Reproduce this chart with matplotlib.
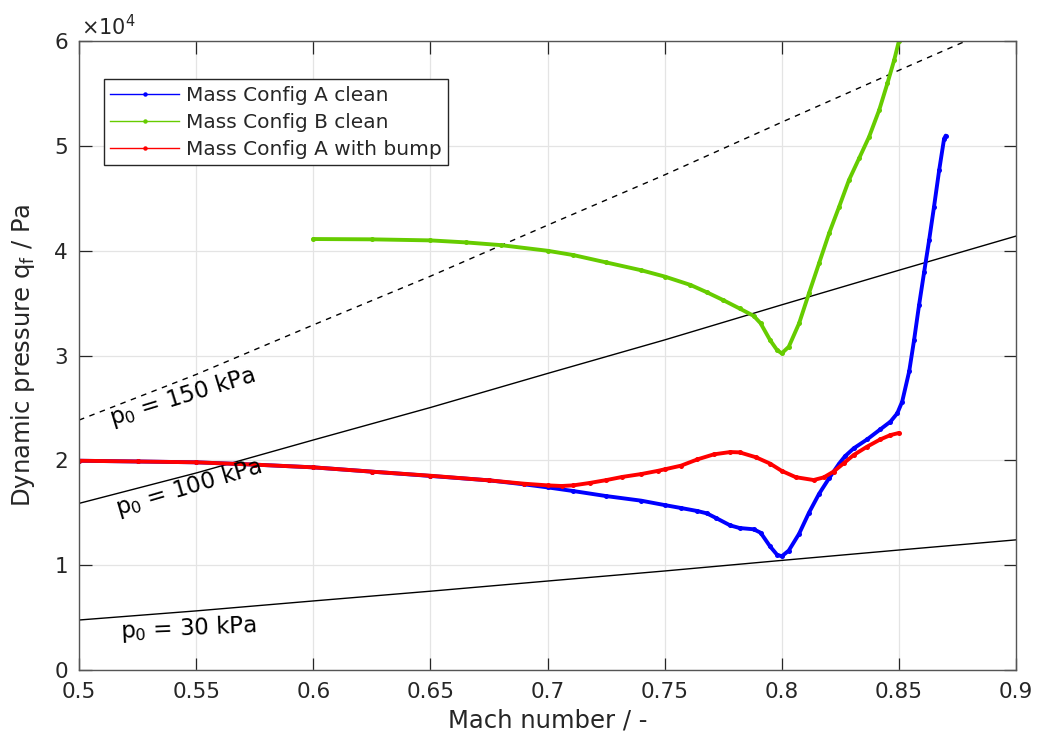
import matplotlib
matplotlib.use("Agg")
import matplotlib.pyplot as plt
from matplotlib.lines import Line2D
import numpy as np

plt.rcParams['font.family'] = ['DejaVu Sans']
plt.rcParams['mathtext.default'] = 'regular'

# ---------------- data ----------------
mach_ref = [0.50, 0.55, 0.60, 0.65, 0.70, 0.75, 0.80, 0.85, 0.90]
q_p0_30 = [4770, 5640, 6590, 7520, 8490, 9450, 10460, 11450, 12420]
q_p0_100 = [15900, 18800, 21950, 25050, 28300, 31500, 34850, 38150, 41410]
q_p0_150 = [23850, 28200, 32930, 37580, 42450, 47250, 52280, 57230, 62120]

mach_A = [0.500, 0.525, 0.550, 0.575, 0.600, 0.625, 0.650, 0.675, 0.690, 0.700,
          0.711, 0.725, 0.740, 0.750, 0.757, 0.764, 0.768, 0.772, 0.778, 0.782,
          0.788, 0.791, 0.795, 0.798, 0.800, 0.803, 0.8074, 0.8116, 0.8159,
          0.8202, 0.8245, 0.827, 0.8307, 0.8364, 0.8421, 0.8464, 0.8493, 0.8514,
          0.8544, 0.8565, 0.8586, 0.8608, 0.8629, 0.865, 0.8672, 0.8693, 0.870]
q_A = [19970, 19900, 19820, 19600, 19340, 18930, 18520, 18100, 17720, 17430,
       17080, 16600, 16160, 15740, 15460, 15170, 14950, 14500, 13800, 13550,
       13430, 13100, 11800, 11000, 10850, 11400, 13000, 15000, 16800,
       18300, 19700, 20400, 21150, 22000, 22970, 23700, 24490, 25600,
       28500, 31500, 34800, 38000, 41000, 44200, 47700, 50700, 51000]

mach_B = [0.600, 0.625, 0.650, 0.665, 0.680, 0.700, 0.711, 0.725, 0.740, 0.750,
          0.761, 0.768, 0.775, 0.782, 0.788, 0.791, 0.795, 0.798, 0.800, 0.803,
          0.8074, 0.8116, 0.8159, 0.8202, 0.8245, 0.8287, 0.833, 0.8373, 0.8416,
          0.8451, 0.848, 0.850]
q_B = [41130, 41100, 41000, 40810, 40550, 40010, 39600, 38900, 38150, 37550,
       36750, 36050, 35300, 34500, 33800, 33080, 31490, 30530, 30220, 30850,
       33080, 35940, 38800, 41670, 44210, 46760, 48820, 50890, 53440,
       55980, 58210, 60000]

mach_Ab = [0.500, 0.525, 0.550, 0.575, 0.600, 0.625, 0.650, 0.675, 0.690, 0.700,
           0.706, 0.711, 0.718, 0.725, 0.732, 0.740, 0.747, 0.750, 0.757, 0.764,
           0.771, 0.778, 0.782, 0.789, 0.795, 0.800, 0.806, 0.8136, 0.8179,
           0.8221, 0.8264, 0.8307, 0.8364, 0.8421, 0.8464, 0.850]
q_Ab = [19970, 19900, 19820, 19600, 19340, 18930, 18540, 18100, 17780, 17620,
        17560, 17620, 17850, 18120, 18430, 18700, 19000, 19150, 19500, 20100,
        20580, 20800, 20770, 20300, 19700, 19000, 18400, 18130, 18380,
        18930, 19720, 20520, 21310, 22010, 22420, 22620]

xticks = [0.5, 0.55, 0.6, 0.65, 0.7, 0.75, 0.8, 0.85, 0.9]
yticks = [0, 10000, 20000, 30000, 40000, 50000, 60000]

labels = ['Mass Config A clean', 'Mass Config B clean', 'Mass Config A with bump']
colors = ['#0000ff', '#66cc00', '#ff0000']

# ---------------- figure ----------------
fig = plt.figure(figsize=(10.38, 7.38), dpi=100)
ax = fig.add_axes([79/1038, 1-670/738, (1016-79)/1038, (670-41.3)/738])

dark = '#262626'
ax.grid(True, color='#e4e4e4', lw=0.9)
ax.set_axisbelow(True)

ax.plot(mach_ref, q_p0_30, color='k', lw=1.0)
ax.plot(mach_ref, q_p0_100, color='k', lw=1.0)
ax.plot(mach_ref, q_p0_150, color='k', lw=1.0, ls=(0, (4, 4)))

for m, q, c in [(mach_A, q_A, colors[0]), (mach_B, q_B, colors[1]), (mach_Ab, q_Ab, colors[2])]:
    ax.plot(m, q, color=c, lw=2.8, marker='o', ms=3.6, mew=0,
            solid_capstyle='round', solid_joinstyle='round')

ax.set_xlim(0.5, 0.9)
ax.set_ylim(0, 60000)
ax.set_xticks(xticks)
ax.set_xticklabels([f'{v:g}' for v in xticks])
ax.set_yticks(yticks)
ax.set_yticklabels([f'{v/1e4:g}' for v in yticks])

ax.tick_params(direction='in', length=9, width=0.9, colors=dark, labelsize=15.5,
               top=True, right=True)
ax.tick_params(axis='x', pad=9)
ax.tick_params(axis='y', pad=8)
for s in ax.spines.values():
    s.set_color('#555555')
    s.set_linewidth(1.0)

ax.set_xlabel('Mach number / -', fontsize=17.5, color=dark)
ax.set_ylabel('Dynamic pressure q$_{f}$ / Pa', fontsize=17.5, color=dark)
ax.xaxis.set_label_coords(0.5, (670-708)/628.7)
ax.yaxis.set_label_coords((37-79)/937, 0.5)

ax.text(0.002, 1.010, '×10$^{4}$', transform=ax.transAxes, fontsize=15,
        color=dark, ha='left', va='baseline')

ax.text(0.514, 23380, 'p$_{0}$ = 150 kPa', rotation=17, rotation_mode='anchor',
        ha='left', va='baseline', fontsize=16.5, color='k')
ax.text(0.5168, 14790, 'p$_{0}$ = 100 kPa', rotation=16.5, rotation_mode='anchor',
        ha='left', va='baseline', fontsize=16.5, color='k')
ax.text(0.5179, 3020, 'p$_{0}$ = 30 kPa', rotation=2.5, rotation_mode='anchor',
        ha='left', va='baseline', fontsize=16.5, color='k')

handles = [Line2D([], [], color=c, lw=1.0, marker='o', ms=3.2, mew=0) for c in colors]
leg = ax.legend(handles, labels, loc='upper left',
                bbox_to_anchor=((104-79)/937, (670-79.3)/628.7),
                borderaxespad=0, fontsize=14.5, frameon=True, fancybox=False,
                edgecolor=dark, framealpha=1, handlelength=3.4, handletextpad=0.35,
                labelspacing=0.4, borderpad=0.32, numpoints=1)
leg.get_frame().set_linewidth(1.0)
for t in leg.get_texts():
    t.set_color(dark)

fig.savefig('out.png', dpi=100)
